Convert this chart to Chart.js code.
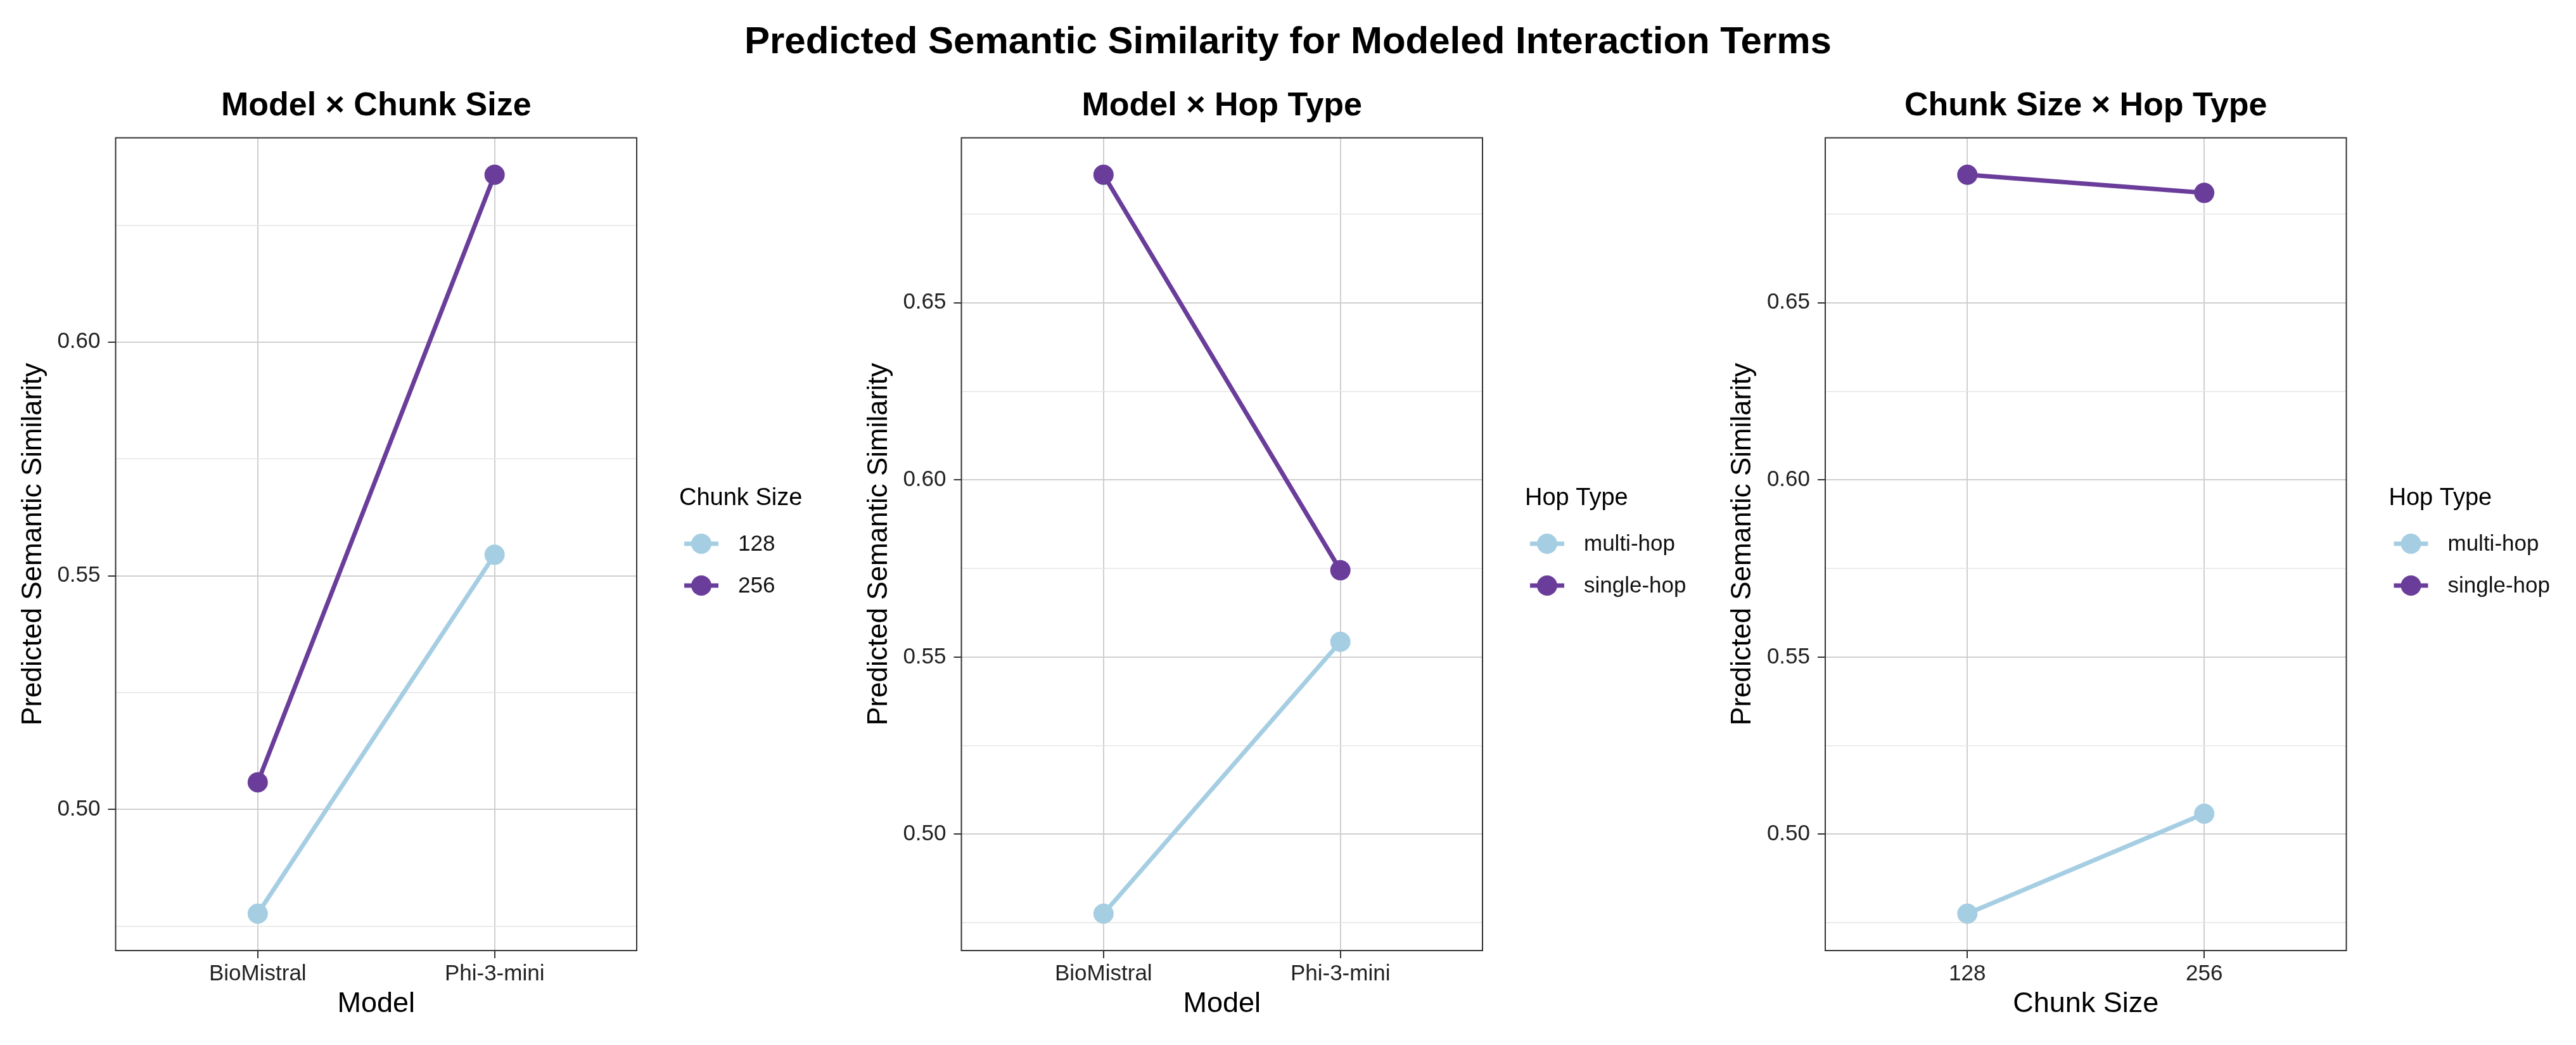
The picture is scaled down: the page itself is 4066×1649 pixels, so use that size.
<!DOCTYPE html>
<html lang="en">
<head>
    <meta charset="UTF-8">
    <title>Predicted Semantic Similarity for Modeled Interaction Terms</title>
    <script src="https://cdn.jsdelivr.net/npm/chart.js"></script>
    <style>
        html, body { margin: 0; padding: 0; background: #fff; }
        body {
            width: 4066px; height: 1649px; position: relative; overflow: hidden;
            font-family: "Liberation Sans", Arial, Helvetica, sans-serif;
        }
        .main-title {
            position: absolute; left: 0; top: 34px; width: 4066px;
            text-align: center; font-weight: bold; font-size: 60px; line-height: 60px; color: #000;
        }
        .panel { position: absolute; top: 0; height: 1649px; }
    </style>
</head>
<body>
    <div class="main-title">Predicted Semantic Similarity for Modeled Interaction Terms</div>
    <div class="panel" style="left:0px; width:1330px;"><canvas id="chunkChart"></canvas></div>
    <div class="panel" style="left:1330px; width:1330px;"><canvas id="hopChart"></canvas></div>
    <div class="panel" style="left:2660px; width:1406px;"><canvas id="chunkHopChart"></canvas></div>

    <script>
        // categories
        const models = ['BioMistral', 'Phi-3-mini'];
        const chunkSizes = ['128', '256'];
        const hopTypes = ['multi-hop', 'single-hop'];

        // Model x Chunk Size
        const chunk128ByModel = [0.4777, 0.5545];
        const chunk256ByModel = [0.5058, 0.6358];
        // Model x Hop Type
        const multiHopByModel = [0.4776, 0.5543];
        const singleHopByModel = [0.6861, 0.5745];
        // Chunk Size x Hop Type
        const multiHopByChunk = [0.4776, 0.5058];
        const singleHopByChunk = [0.6861, 0.6810];

        // y gridlines (major ones get labels)
        const gridChunk = [0.475, 0.50, 0.525, 0.55, 0.575, 0.60, 0.625];
        const gridHop = [0.475, 0.50, 0.525, 0.55, 0.575, 0.60, 0.625, 0.65, 0.675];

        const lightBlue = '#A6CEE3';
        const purple = '#6A3D9A';
        const FONT = '"Liberation Sans", Arial, Helvetica, sans-serif';
        Chart.defaults.font.family = FONT;

        const PLOT_TOP = 217.5;
        const PLOT_BOTTOM = 1500;
        const PAGE_H = 1649;

        const isMajor = v => Math.abs(v * 20 - Math.round(v * 20)) < 1e-6;

        // ggplot style 5% expansion of the data range
        function expandRange(values) {
            const lo = Math.min(...values), hi = Math.max(...values);
            const pad = (hi - lo) * 0.05;
            return [lo - pad, hi + pad];
        }

        const panelDecor = {
            id: 'panelDecor',
            afterDraw(chart, args, opts) {
                const { ctx, chartArea: a } = chart;
                ctx.save();
                ctx.strokeStyle = '#333';
                ctx.lineWidth = 2;
                ctx.strokeRect(a.left, a.top, a.right - a.left, a.bottom - a.top);

                ctx.fillStyle = '#000';
                ctx.font = 'bold 52px ' + FONT;
                ctx.textAlign = 'center';
                ctx.textBaseline = 'alphabetic';
                ctx.fillText(opts.subtitle, (a.left + a.right) / 2, 182);

                // legend on the right
                ctx.textAlign = 'left';
                ctx.font = '38px ' + FONT;
                ctx.fillText(opts.legendTitle, a.right + 67, 797);
                chart.data.datasets.forEach((ds, i) => {
                    const y = 858 + i * 66;
                    const cx = a.right + 102;
                    ctx.strokeStyle = ds.borderColor;
                    ctx.lineWidth = 7;
                    ctx.beginPath();
                    ctx.moveTo(cx - 27, y);
                    ctx.lineTo(cx + 27, y);
                    ctx.stroke();
                    ctx.fillStyle = ds.borderColor;
                    ctx.beginPath();
                    ctx.arc(cx, y, 16, 0, Math.PI * 2);
                    ctx.fill();
                    ctx.fillStyle = '#111';
                    ctx.font = '35px ' + FONT;
                    ctx.textBaseline = 'middle';
                    ctx.fillText(ds.label, a.right + 160, y + 1);
                    ctx.textBaseline = 'alphabetic';
                });
                ctx.restore();
            }
        };

        function makePanel(id, cfg) {
            const allValues = cfg.series.flatMap(s => s.values);
            const [yMin, yMax] = expandRange(allValues);

            return new Chart(document.getElementById(id), {
                type: 'line',
                data: {
                    datasets: cfg.series.map(s => ({
                        label: s.label,
                        data: s.values.map((v, i) => ({ x: i, y: v })),
                        borderColor: s.color,
                        backgroundColor: s.color,
                        pointBackgroundColor: s.color,
                        borderWidth: 7,
                        pointRadius: 16,
                        pointHoverRadius: 16,
                        pointBorderWidth: 0,
                        fill: false,
                        tension: 0
                    }))
                },
                options: {
                    responsive: true,
                    maintainAspectRatio: false,
                    animation: false,
                    layout: { padding: { top: PLOT_TOP, right: cfg.width - cfg.plotRight, bottom: 0, left: 0 } },
                    plugins: {
                        legend: { display: false },
                        tooltip: { enabled: false },
                        panelDecor: { subtitle: cfg.subtitle, legendTitle: cfg.legendTitle }
                    },
                    scales: {
                        x: {
                            type: 'linear',
                            min: -0.6,
                            max: 1.6,
                            bounds: 'data',
                            afterBuildTicks: ax => { ax.ticks = cfg.categories.map((c, i) => ({ value: i })); },
                            afterFit: ax => { ax.height = PAGE_H - PLOT_BOTTOM; },
                            ticks: {
                                callback: v => cfg.categories[v],
                                font: { size: 35 },
                                color: '#222',
                                padding: 4,
                                maxRotation: 0,
                                autoSkip: false
                            },
                            grid: { color: '#cfcfcf', lineWidth: 2, tickLength: 12, tickColor: '#333', tickWidth: 2 },
                            border: { display: false },
                            title: {
                                display: true,
                                text: cfg.xTitle,
                                font: { size: 45 },
                                color: '#000',
                                padding: { top: 0, bottom: 37 }
                            }
                        },
                        y: {
                            type: 'linear',
                            min: yMin,
                            max: yMax,
                            bounds: 'data',
                            afterBuildTicks: ax => { ax.ticks = cfg.gridValues.map(v => ({ value: v })); },
                            afterFit: ax => { ax.width = cfg.plotLeft; },
                            ticks: {
                                callback: v => isMajor(v) ? v.toFixed(2) : '',
                                font: { size: 35 },
                                color: '#222',
                                padding: 12,
                                autoSkip: false
                            },
                            grid: {
                                color: c => (c.tick && isMajor(c.tick.value)) ? '#cfcfcf' : '#e6e6e6',
                                lineWidth: c => (c.tick && isMajor(c.tick.value)) ? 2 : 1.5,
                                tickLength: 12,
                                tickColor: c => (c.tick && isMajor(c.tick.value)) ? '#333' : 'rgba(0,0,0,0)',
                                tickWidth: 2
                            },
                            border: { display: false },
                            title: {
                                display: true,
                                text: 'Predicted Semantic Similarity',
                                font: { size: 44 },
                                color: '#000',
                                padding: { top: cfg.plotLeft - 130 - 26.4, bottom: 0 }
                            }
                        }
                    }
                },
                plugins: [panelDecor]
            });
        }

        makePanel('chunkChart', {
            width: 1330, plotLeft: 182.5, plotRight: 1005,
            subtitle: 'Model \u00d7 Chunk Size',
            legendTitle: 'Chunk Size',
            xTitle: 'Model',
            categories: models,
            gridValues: gridChunk,
            series: [
                { label: chunkSizes[0], values: chunk128ByModel, color: lightBlue },
                { label: chunkSizes[1], values: chunk256ByModel, color: purple }
            ]
        });

        makePanel('hopChart', {
            width: 1330, plotLeft: 187.5, plotRight: 1010,
            subtitle: 'Model \u00d7 Hop Type',
            legendTitle: 'Hop Type',
            xTitle: 'Model',
            categories: models,
            gridValues: gridHop,
            series: [
                { label: hopTypes[0], values: multiHopByModel, color: lightBlue },
                { label: hopTypes[1], values: singleHopByModel, color: purple }
            ]
        });

        makePanel('chunkHopChart', {
            width: 1406, plotLeft: 221, plotRight: 1043.5,
            subtitle: 'Chunk Size \u00d7 Hop Type',
            legendTitle: 'Hop Type',
            xTitle: 'Chunk Size',
            categories: chunkSizes,
            gridValues: gridHop,
            series: [
                { label: hopTypes[0], values: multiHopByChunk, color: lightBlue },
                { label: hopTypes[1], values: singleHopByChunk, color: purple }
            ]
        });
    </script>
</body>
</html>
